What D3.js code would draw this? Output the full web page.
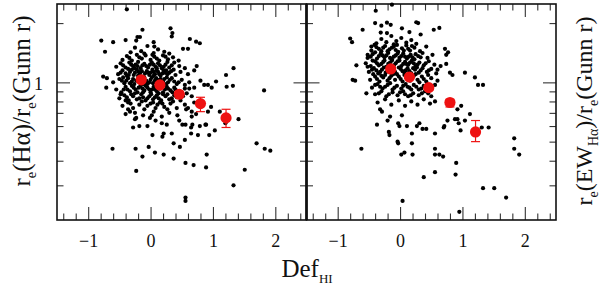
<!DOCTYPE html>
<html>
<head>
<meta charset="utf-8">
<script src="https://cdnjs.cloudflare.com/ajax/libs/d3/7.8.5/d3.min.js"></script>
<style>
  body { margin: 0; background: #fff; }
  svg { display: block; font-family: "Liberation Serif", "DejaVu Serif", serif; }
</style>
</head>
<body>
<svg id="chart" width="600" height="285"></svg>
<script>
// Axis ticks
const xMajor = [-1, 0, 1, 2];
const xMinor = [-1.4, -1.2, -0.8, -0.6, -0.4, -0.2, 0.2, 0.4, 0.6, 0.8, 1.2, 1.4, 1.6, 1.8, 2.2, 2.4];
const yMajor = [1];
const yMinor = [0.3, 0.4, 0.5, 0.6, 0.7, 0.8, 0.9, 2];

// Left panel: r_e(Halpha)/r_e(Gunn r) vs Def_HI  -- [Def, ratio]
const leftCore = [
  [-0.32,1.42],[-0.25,1.50],[-0.15,1.44],[-0.05,1.53],[0.05,1.41],[0.12,1.47],[0.22,1.43],[0.30,1.40],[-0.10,1.40],
  [-0.45,1.30],[-0.38,1.36],[-0.30,1.29],[-0.22,1.38],[-0.14,1.32],[-0.08,1.37],[0.00,1.30],[0.06,1.35],[0.14,1.29],[0.20,1.37],[0.28,1.31],[0.36,1.34],[0.45,1.29],[-0.34,1.33],[-0.18,1.34],[0.03,1.38],[0.10,1.32],[0.24,1.35],
  [-0.55,1.20],[-0.48,1.25],[-0.40,1.19],[-0.34,1.26],[-0.28,1.21],[-0.20,1.27],[-0.16,1.18],[-0.10,1.24],[-0.04,1.19],[0.02,1.26],[0.08,1.20],[0.12,1.25],[0.18,1.18],[0.24,1.23],[0.30,1.19],[0.38,1.26],[0.46,1.21],[0.55,1.18],[-0.44,1.22],[-0.24,1.23],[-0.07,1.21],[0.05,1.23],[0.15,1.22],[0.27,1.27],[0.34,1.22],
  [-0.52,1.10],[-0.45,1.15],[-0.38,1.08],[-0.33,1.13],[-0.27,1.09],[-0.22,1.16],[-0.17,1.11],[-0.12,1.07],[-0.06,1.14],[-0.02,1.09],[0.03,1.16],[0.07,1.10],[0.12,1.13],[0.16,1.08],[0.21,1.15],[0.27,1.10],[0.33,1.14],[0.40,1.09],[0.48,1.13],[0.60,1.10],[0.70,1.15],[-0.48,1.12],[-0.30,1.16],[-0.19,1.13],[-0.09,1.11],[0.00,1.12],[0.10,1.15],[0.19,1.11],[0.30,1.12],[0.37,1.16],
  [-0.60,1.00],[-0.50,1.04],[-0.42,0.99],[-0.36,1.05],[-0.30,1.01],[-0.26,0.98],[-0.20,1.04],[-0.14,1.00],[-0.10,1.06],[-0.05,0.98],[0.00,1.03],[0.04,0.99],[0.09,1.05],[0.13,1.01],[0.18,0.98],[0.22,1.04],[0.28,1.00],[0.34,1.05],[0.42,0.98],[0.50,1.03],[0.62,1.00],[-0.46,1.02],[-0.33,0.99],[-0.23,1.02],[-0.07,1.02],[0.07,1.02],[0.16,1.04],[0.25,0.98],[0.38,1.01],
  [-0.55,0.92],[-0.47,0.89],[-0.40,0.95],[-0.33,0.90],[-0.27,0.94],[-0.21,0.89],[-0.16,0.96],[-0.10,0.91],[-0.05,0.94],[0.00,0.89],[0.05,0.95],[0.10,0.90],[0.15,0.93],[0.20,0.89],[0.26,0.95],[0.32,0.91],[0.38,0.94],[0.45,0.90],[0.55,0.93],[-0.37,0.92],[-0.24,0.92],[-0.13,0.93],[0.02,0.92],[0.12,0.96],[0.23,0.92],[0.35,0.89],
  [-0.50,0.83],[-0.42,0.86],[-0.35,0.81],[-0.28,0.85],[-0.22,0.82],[-0.15,0.87],[-0.08,0.81],[-0.02,0.85],[0.04,0.82],[0.10,0.86],[0.17,0.81],[0.24,0.85],[0.30,0.82],[0.38,0.86],[0.48,0.81],[-0.31,0.87],[-0.12,0.84],[0.07,0.84],[0.20,0.87],[0.34,0.83],
  [-0.45,0.76],[-0.36,0.79],[-0.28,0.74],[-0.18,0.77],[-0.10,0.73],[0.00,0.78],[0.08,0.74],[0.15,0.79],[0.22,0.75],[0.32,0.78],[0.42,0.74],[0.55,0.77],[-0.05,0.76],[0.27,0.73],
  [-0.40,0.69],[-0.25,0.70],[-0.12,0.68],[0.05,0.71],[0.18,0.67],[0.30,0.70]
];
const leftDense = [
  [-0.31,1.23],[-0.26,1.18],[-0.21,1.21],[-0.13,1.22],[-0.01,1.23],[0.10,1.18],[0.21,1.20],[-0.36,1.17],
  [-0.40,1.11],[-0.35,1.09],[-0.25,1.12],[-0.14,1.14],[-0.04,1.12],[0.05,1.13],[0.14,1.10],[0.23,1.12],[0.05,1.08],[-0.20,1.08],[0.25,1.15],
  [-0.44,1.06],[-0.39,1.02],[-0.28,1.04],[-0.17,1.03],[-0.12,0.98],[-0.02,1.00],[0.02,1.06],[0.11,1.03],[0.20,1.01],[0.31,1.03],[0.26,1.06],[-0.08,0.99],
  [-0.43,0.92],[-0.30,0.96],[-0.19,0.94],[-0.08,0.96],[-0.02,0.92],[0.07,0.92],[0.17,0.96],[0.28,0.93],[0.40,0.92],[-0.12,0.89],[0.13,0.88],
  [-0.38,0.84],[-0.25,0.88],[-0.18,0.83],[-0.05,0.83],[0.01,0.87],[0.13,0.83],[0.27,0.87],[0.42,0.84],[-0.48,0.87],
  [-0.32,0.78],[-0.14,0.80],[0.04,0.79],[0.19,0.78],[0.36,0.80],[-0.40,0.81],[0.11,0.77]
];
const leftOutliers = [
  [-0.38,2.35],[-0.79,1.63],[-0.60,1.60],[-0.40,1.64],[-0.73,1.43],[-0.13,1.85],[0.32,1.88],[0.35,1.78],[0.34,1.71],[0.63,1.66],[0.73,1.61],[0.79,1.58],[0.52,1.48],[0.60,1.48],[0.05,1.60],[0.06,1.52],[-0.21,1.70],[-0.17,1.70],[-0.23,1.63],
  [-0.76,1.07],[-0.70,1.05],[-0.71,0.94],[1.21,1.09],[1.33,1.18],[1.05,1.01],[0.80,1.02],[0.86,0.97],[0.92,0.97],[0.98,0.94],[1.22,0.95],[1.32,0.96],[1.82,0.91],[0.74,1.21],[-0.47,0.88],
  [1.41,0.65],[-0.61,0.46],[-0.24,0.46],[-0.03,0.47],[-0.23,0.355],[-0.13,0.42],[0.07,0.44],[0.21,0.43],[0.37,0.41],[0.56,0.39],[0.69,0.38],[0.89,0.37],[0.90,0.43],[1.51,0.36],[1.33,0.30],[0.56,0.26],[0.56,0.25],[1.70,0.49],[1.83,0.46],[1.92,0.45],
  [0.37,0.49],[0.47,0.47],[0.55,0.51],[0.65,0.55],[0.76,0.54],[0.94,0.54],[1.03,0.57],[-0.28,0.59],[-0.18,0.60],[-0.05,0.60],[0.03,0.54],[0.19,0.53],[0.21,0.55],[0.34,0.55],[0.65,0.59],[0.79,0.60],[0.89,0.61],[-0.25,0.65],[0.51,0.61],[1.20,0.62],
  [0.97,0.75],[0.92,0.71],[1.11,0.71],[-0.36,0.73],[-0.33,0.71],[-0.23,0.66],[-0.01,0.66],[0.02,0.68],[0.08,0.64],[0.18,0.62],[0.26,0.61],[0.43,0.68],[0.46,0.64],[0.56,0.61],[0.67,0.61],[0.66,0.67],[0.73,0.69],[0.88,0.61],
  [0.60,0.74],[0.66,0.71],[0.57,0.73],[0.70,0.79],[0.45,1.00],[0.55,0.97],[0.62,0.93],[0.70,0.94],[0.58,0.88],[0.52,0.85],[0.66,0.85]
];

// Right panel: r_e(EW_Halpha)/r_e(Gunn r) vs Def_HI
const rightCore = [
  [-0.38,1.58],[-0.30,1.66],[-0.22,1.60],[-0.14,1.72],[-0.06,1.62],[0.02,1.68],[0.10,1.59],[0.18,1.64],[0.26,1.57],[-0.10,1.56],
  [-0.46,1.45],[-0.38,1.51],[-0.30,1.44],[-0.24,1.53],[-0.17,1.47],[-0.10,1.52],[-0.03,1.43],[0.03,1.49],[0.10,1.54],[0.16,1.45],[0.23,1.50],[0.32,1.44],[0.42,1.52],[-0.34,1.48],[-0.07,1.46],[0.13,1.48],
  [-0.52,1.33],[-0.44,1.39],[-0.37,1.32],[-0.31,1.40],[-0.25,1.34],[-0.19,1.41],[-0.13,1.31],[-0.07,1.37],[-0.01,1.33],[0.05,1.40],[0.11,1.32],[0.17,1.38],[0.23,1.31],[0.29,1.36],[0.36,1.41],[0.44,1.33],[0.52,1.38],[-0.28,1.37],[-0.10,1.35],[0.08,1.35],[0.20,1.34],
  [-0.55,1.25],[-0.47,1.21],[-0.40,1.28],[-0.34,1.22],[-0.27,1.27],[-0.22,1.20],[-0.16,1.26],[-0.10,1.22],[-0.04,1.28],[0.02,1.21],[0.08,1.27],[0.13,1.23],[0.19,1.29],[0.25,1.21],[0.31,1.26],[0.38,1.22],[0.46,1.28],[0.55,1.23],[-0.30,1.24],[-0.13,1.29],[0.05,1.24],[0.22,1.25],
  [-0.50,1.13],[-0.42,1.18],[-0.35,1.11],[-0.29,1.16],[-0.23,1.12],[-0.17,1.19],[-0.11,1.14],[-0.05,1.10],[0.01,1.17],[0.07,1.12],[0.12,1.18],[0.18,1.11],[0.24,1.16],[0.30,1.12],[0.36,1.18],[0.43,1.13],[0.50,1.17],[0.58,1.11],[-0.38,1.15],[-0.20,1.15],[0.04,1.14],[0.27,1.19],
  [-0.48,1.03],[-0.40,1.07],[-0.33,1.01],[-0.27,1.06],[-0.20,1.02],[-0.14,1.08],[-0.08,1.03],[-0.02,1.07],[0.04,1.01],[0.10,1.06],[0.16,1.02],[0.22,1.08],[0.28,1.03],[0.35,1.07],[0.42,1.01],[0.50,1.05],[0.60,1.02],[-0.24,1.09],[0.07,1.09],[0.31,1.00],
  [-0.45,0.94],[-0.36,0.98],[-0.28,0.93],[-0.20,0.97],[-0.12,0.92],[-0.05,0.96],[0.02,0.93],[0.09,0.98],[0.15,0.94],[0.22,0.97],[0.30,0.92],[0.38,0.96],[0.47,0.93],[0.56,0.97],[-0.32,0.95],[0.12,0.95],
  [-0.40,0.87],[-0.30,0.90],[-0.22,0.85],[-0.12,0.89],[-0.04,0.86],[0.05,0.90],[0.13,0.85],[0.21,0.88],[0.30,0.86],[0.40,0.90],[0.50,0.85],[0.08,0.87],
  [-0.36,0.79],[-0.24,0.82],[-0.14,0.77],[-0.02,0.81],[0.08,0.76],[0.18,0.80],[0.28,0.77],[0.38,0.82],[0.48,0.78],[0.56,0.80]
];
const rightDense = [
  [-0.27,1.50],[-0.20,1.44],[-0.13,1.50],[-0.05,1.55],[0.06,1.45],[0.19,1.53],[-0.41,1.55],
  [-0.40,1.42],[-0.34,1.36],[-0.22,1.37],[-0.16,1.33],[-0.04,1.40],[0.02,1.36],[0.14,1.35],[0.25,1.39],[0.33,1.34],[-0.47,1.35],
  [-0.44,1.29],[-0.37,1.25],[-0.25,1.29],[-0.19,1.24],[-0.07,1.25],[-0.01,1.29],[0.10,1.24],[0.16,1.26],[0.28,1.23],[0.41,1.25],[-0.52,1.20],
  [-0.45,1.16],[-0.32,1.13],[-0.26,1.19],[-0.14,1.17],[-0.08,1.13],[-0.02,1.19],[0.09,1.15],[0.15,1.14],[0.21,1.18],[0.33,1.15],[0.46,1.15],
  [-0.43,1.10],[-0.37,1.04],[-0.30,1.08],[-0.17,1.05],[-0.11,1.10],[0.01,1.04],[0.13,1.08],[0.19,1.05],[0.25,1.10],[0.38,1.04],[0.45,1.09],
  [-0.40,0.97],[-0.24,0.95],[-0.16,0.99],[-0.09,0.94],[0.05,0.96],[0.18,0.92],[0.26,0.95],[0.34,0.93],[0.43,0.97],
  [-0.34,0.88],[-0.18,0.87],[0.00,0.89],[0.17,0.86],[0.35,0.88],[0.45,0.88]
];
const rightOutliers = [
  [-0.13,2.48],[-0.39,2.31],[-0.60,1.85],[-0.80,1.67],[-0.77,1.60],[-0.70,1.22],[-0.76,1.03],[-0.72,1.02],[-0.54,0.88],[-0.62,0.46],[-0.37,0.61],
  [0.26,2.02],[0.29,2.00],[0.54,1.85],[0.63,1.89],[0.72,1.48],[0.77,1.42],[0.74,1.38],[0.80,1.12],[0.84,1.09],[1.04,1.12],[1.20,1.06],[1.25,0.97],[1.33,0.97],
  [0.98,0.76],[1.12,0.69],[0.92,0.65],[0.94,0.62],[1.31,0.59],[1.42,0.59],[1.83,0.52],[1.83,0.46],[1.91,0.43],[1.33,0.29],[1.51,0.29],[1.70,0.26],[0.04,0.25],[0.95,0.22],
  [0.38,0.33],[0.56,0.35],[0.89,0.34],[0.90,0.39],[0.56,0.46],[0.56,0.43],[0.63,0.43],[0.69,0.42],[-0.04,0.50],[-0.03,0.49],[0.02,0.43],[0.07,0.44],[0.19,0.49],[0.19,0.55],[0.20,0.43],
  [0.56,0.55],[0.70,0.59],[0.71,0.60],[0.36,0.58],[0.42,0.58],[0.27,0.60],[0.31,0.62],[0.11,0.60],[-0.03,0.62],[-0.01,0.60],[0.03,0.68],[-0.18,0.56],[-0.17,0.54],[-0.20,0.64],[-0.32,0.73],[-0.29,0.71],[-0.16,0.67],
  [0.97,0.57],[1.04,0.64],[0.92,0.73],[0.88,0.65],[0.76,0.64],
  [-0.40,2.00],[-0.30,1.94],[-0.21,2.01],[-0.15,1.96],[-0.31,1.79],[-0.21,1.78],[0.03,1.88],[0.33,1.75],[0.15,1.80],[-0.46,1.52],[-0.52,1.38],[0.74,1.24],[0.60,1.16],[0.65,1.21]
];

// Binned means with error bars
const meanDef = [-0.15, 0.15, 0.46, 0.80, 1.21];
const leftMean = [1.03, 0.97, 0.87, 0.78, 0.66];
const leftLo = [1.01, 0.95, 0.84, 0.71, 0.59];
const leftHi = [1.05, 0.99, 0.90, 0.84, 0.73];
const rightMean = [1.17, 1.065, 0.94, 0.79, 0.56];
const rightLo = [1.14, 1.04, 0.91, 0.75, 0.50];
const rightHi = [1.20, 1.09, 0.97, 0.82, 0.64];

const svg = d3.select("#chart");
const plotTop = 4, plotBottom = 220;
const red = "#ee1111";

const y = d3.scaleLog().domain([0.2, 2.5]).range([plotBottom, plotTop]);

const panels = [
  { x0: 57, x1: 306.5, points: leftCore.concat(leftDense, leftOutliers), mean: leftMean, lo: leftLo, hi: leftHi, yLabels: true },
  { x0: 306.5, x1: 556, points: rightCore.concat(rightDense, rightOutliers), mean: rightMean, lo: rightLo, hi: rightHi, yLabels: false }
];

function tickStyle(g) {
  g.select(".domain").remove();
  g.attr("color", "#333");
  g.selectAll("line").attr("stroke-width", 1.1);
  g.selectAll("text")
    .attr("font-family", "Liberation Serif, serif")
    .attr("font-size", 18)
    .attr("fill", "#111");
}

panels.forEach(p => {
  const x = d3.scaleLinear().domain([-1.5, 2.5]).range([p.x0, p.x1]);
  const g = svg.append("g");

  // ticks on all four sides, pointing inward
  g.append("g").attr("transform", `translate(0,${plotBottom})`)
    .call(d3.axisBottom(x).tickValues(xMinor).tickSize(-6.5).tickFormat("")).call(tickStyle);
  g.append("g").attr("transform", `translate(0,${plotBottom})`)
    .call(d3.axisBottom(x).tickValues(xMajor).tickSize(-13).tickPadding(14).tickFormat(d3.format("d"))).call(tickStyle);
  g.append("g").attr("transform", `translate(0,${plotTop})`)
    .call(d3.axisTop(x).tickValues(xMinor).tickSize(-6.5).tickFormat("")).call(tickStyle);
  g.append("g").attr("transform", `translate(0,${plotTop})`)
    .call(d3.axisTop(x).tickValues(xMajor).tickSize(-13).tickFormat("")).call(tickStyle);

  g.append("g").attr("transform", `translate(${p.x0},0)`)
    .call(d3.axisLeft(y).tickValues(yMinor).tickSize(-6.5).tickFormat("")).call(tickStyle);
  const yl = g.append("g").attr("transform", `translate(${p.x0},0)`)
    .call(d3.axisLeft(y).tickValues(yMajor).tickSize(-13).tickPadding(14)
      .tickFormat(p.yLabels ? d3.format("d") : "")).call(tickStyle);
  yl.selectAll("text").attr("dy", "0.42em");
  g.append("g").attr("transform", `translate(${p.x1},0)`)
    .call(d3.axisRight(y).tickValues(yMinor).tickSize(-6.5).tickFormat("")).call(tickStyle);
  g.append("g").attr("transform", `translate(${p.x1},0)`)
    .call(d3.axisRight(y).tickValues(yMajor).tickSize(-13).tickFormat("")).call(tickStyle);

  // frame
  g.append("rect")
    .attr("x", p.x0).attr("y", plotTop)
    .attr("width", p.x1 - p.x0).attr("height", plotBottom - plotTop)
    .attr("fill", "none").attr("stroke", "#111").attr("stroke-width", 1.6);

  // galaxies
  g.append("g").selectAll("circle")
    .data(p.points)
    .join("circle")
    .attr("cx", d => x(d[0]))
    .attr("cy", d => y(d[1]))
    .attr("r", 2.1)
    .attr("fill", "#000");

  // binned means
  const bins = meanDef.map((d, i) => ({ def: d, v: p.mean[i], lo: p.lo[i], hi: p.hi[i] }));
  const eb = g.append("g").attr("stroke", red).attr("stroke-width", 1.2);
  eb.selectAll(".bar").data(bins).join("line")
    .attr("x1", d => x(d.def)).attr("x2", d => x(d.def))
    .attr("y1", d => y(d.lo)).attr("y2", d => y(d.hi));
  eb.selectAll(".capLo").data(bins).join("line")
    .attr("x1", d => x(d.def) - 4.5).attr("x2", d => x(d.def) + 4.5)
    .attr("y1", d => y(d.lo)).attr("y2", d => y(d.lo));
  eb.selectAll(".capHi").data(bins).join("line")
    .attr("x1", d => x(d.def) - 4.5).attr("x2", d => x(d.def) + 4.5)
    .attr("y1", d => y(d.hi)).attr("y2", d => y(d.hi));
  g.append("g").selectAll("circle")
    .data(bins)
    .join("circle")
    .attr("cx", d => x(d.def))
    .attr("cy", d => y(d.v))
    .attr("r", 5.6)
    .attr("fill", red);
});

// shared middle edge is drawn a bit heavier
svg.append("line")
  .attr("x1", 306.5).attr("x2", 306.5).attr("y1", plotTop).attr("y2", plotBottom)
  .attr("stroke", "#111").attr("stroke-width", 2.6);

// axis titles
const xTitle = svg.append("text")
  .attr("x", 307).attr("y", 277)
  .attr("text-anchor", "middle")
  .attr("font-size", 25)
  .attr("fill", "#111");
xTitle.append("tspan").text("Def");
xTitle.append("tspan").attr("font-size", 13).attr("dy", 6).text("HI");

// rotated titles; subscripts shift down by 6px and back again
function yTitle(cx, cy, size, parts) {
  const t = svg.append("text")
    .attr("transform", `translate(${cx},${cy}) rotate(-90)`)
    .attr("text-anchor", "middle")
    .attr("font-size", size)
    .attr("fill", "#111");
  let prevSub = false;
  parts.forEach(([s, sub]) => {
    const shift = (sub ? 6 : 0) - (prevSub ? 6 : 0);
    t.append("tspan")
      .attr("font-size", sub ? size * 0.58 : size)
      .attr("dy", shift)
      .text(s);
    prevSub = !!sub;
  });
}
yTitle(30, 101, 25, [["r"], ["e", 1], ["(H\u03b1)/r"], ["e", 1], ["(Gunn r)"]]);
yTitle(592, 111, 24, [["r"], ["e", 1], ["(EW"], ["H\u03b1", 1], [")/r"], ["e", 1], ["(Gunn r)"]]);
</script>
</body>
</html>
